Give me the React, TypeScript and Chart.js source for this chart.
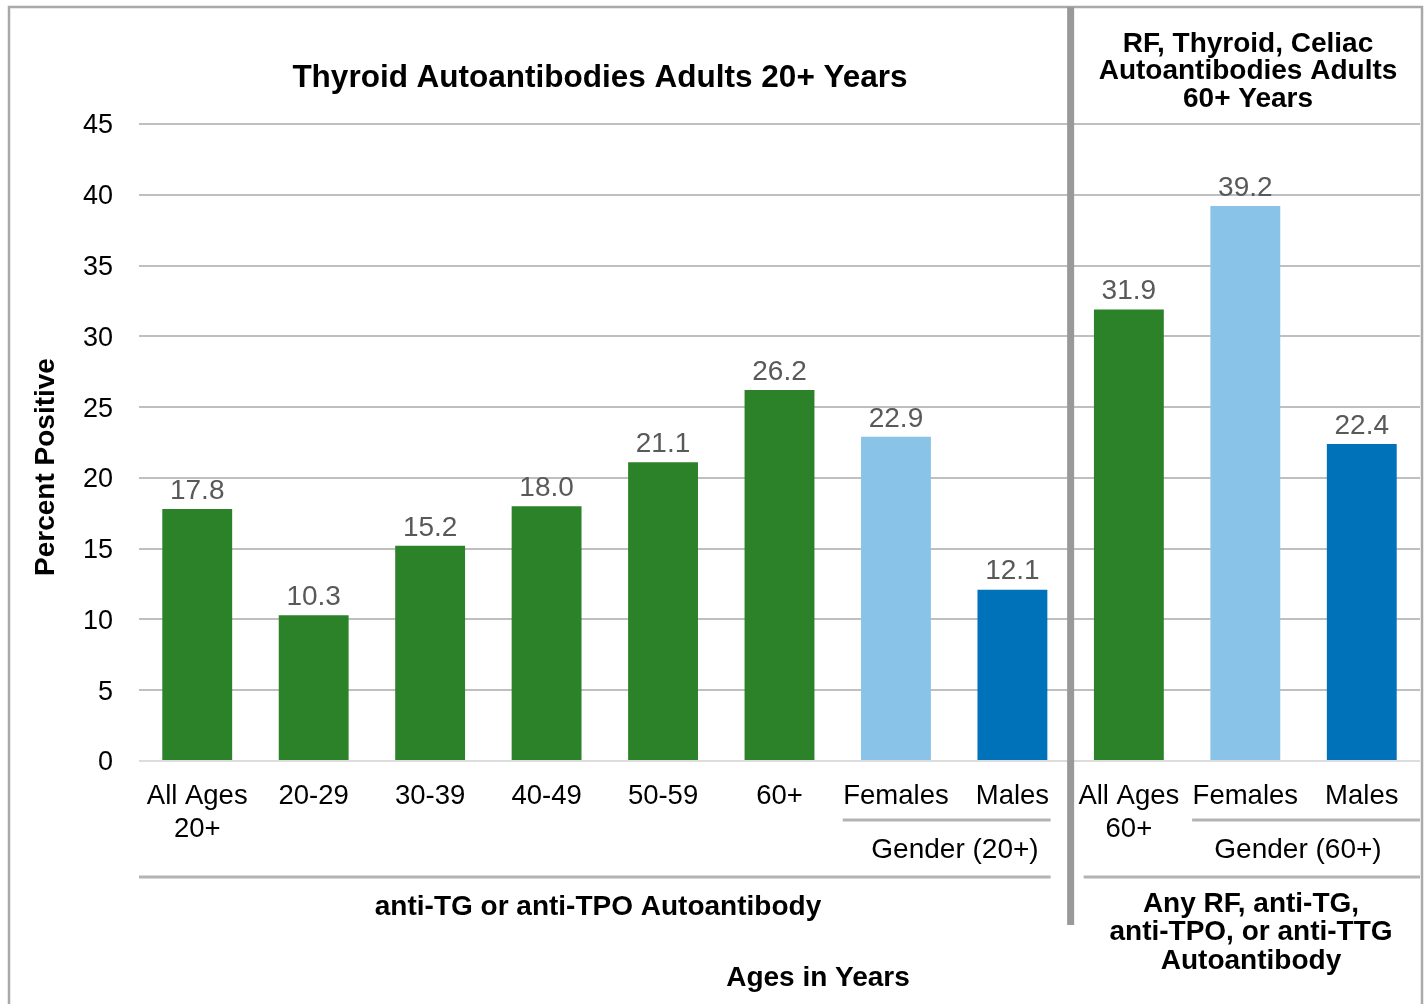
import React, { useEffect, useRef } from "react";
import { Chart, registerables } from "chart.js";

Chart.register(...registerables);

const GREEN = "#2B8229";
const LIGHT_BLUE = "#89C4E8";
const DARK_BLUE = "#0072B9";

const categories: (string | string[])[] = [
  ["All Ages", "20+"],
  "20-29",
  "30-39",
  "40-49",
  "50-59",
  "60+",
  "Females",
  "Males",
  ["All Ages", "60+"],
  "Females",
  "Males",
];
const values = [17.8, 10.3, 15.2, 18.0, 21.1, 26.2, 22.9, 12.1, 31.9, 39.2, 22.4];
const barColors = [GREEN, GREEN, GREEN, GREEN, GREEN, GREEN, LIGHT_BLUE, DARK_BLUE, GREEN, LIGHT_BLUE, DARK_BLUE];

const yMin = 0;
const yMax = 45;
const yStep = 5;

const leftTitle = "Thyroid Autoantibodies Adults 20+ Years";
const rightTitle = ["RF, Thyroid, Celiac", "Autoantibodies Adults", "60+ Years"];
const yTitle = "Percent Positive";
const xTitle = "Ages in Years";
const gender20Label = "Gender (20+)";
const gender60Label = "Gender (60+)";
const leftGroupLabel = "anti-TG or anti-TPO Autoantibody";
const rightGroupLabel = ["Any RF, anti-TG,", "anti-TPO, or anti-TTG", "Autoantibody"];

const FONT = "'Liberation Sans', Arial, Helvetica, sans-serif";

const overlayPlugin = {
  id: "overlay",
  afterDraw(chart: any) {
    const ctx: CanvasRenderingContext2D = chart.ctx;
    const x = chart.scales.x;
    const area = chart.chartArea;
    const px = (i: number) => x.getPixelForValue(i);
    const half = (px(1) - px(0)) / 2;
    const divX = (px(7) + px(8)) / 2;

    ctx.save();
    // frame
    ctx.strokeStyle = "#a9a9a9";
    ctx.lineWidth = 2.5;
    ctx.strokeRect(9, 7, 1413, 1010);

    // divider
    ctx.fillStyle = "#999999";
    ctx.fillRect(divX - 3.5, 7, 7, 918);

    // value labels
    const meta = chart.getDatasetMeta(0);
    ctx.fillStyle = "#595959";
    ctx.font = `28px ${FONT}`;
    ctx.textAlign = "center";
    ctx.textBaseline = "bottom";
    meta.data.forEach((bar: any, i: number) => {
      ctx.fillText(values[i].toFixed(1), bar.x, bar.y - 4);
    });

    // titles
    ctx.fillStyle = "#000";
    ctx.textBaseline = "middle";
    ctx.font = `bold 31.5px ${FONT}`;
    ctx.fillText(leftTitle, 600, 78);
    ctx.font = `bold 28px ${FONT}`;
    rightTitle.forEach((t, i) => ctx.fillText(t, 1248, 44 + i * 27.5));

    // y title
    ctx.save();
    ctx.translate(46, 467);
    ctx.rotate(-Math.PI / 2);
    ctx.font = `bold 28px ${FONT}`;
    ctx.fillText(yTitle, 0, 0);
    ctx.restore();

    // group lines
    ctx.strokeStyle = "#b3b3b3";
    ctx.lineWidth = 3;
    const line = (x1: number, x2: number, y: number) => {
      ctx.beginPath();
      ctx.moveTo(x1, y);
      ctx.lineTo(x2, y);
      ctx.stroke();
    };
    line(px(6) - half + 5, divX - 20, 820);
    line(px(9) - half + 5, area.right, 820);
    line(area.left, divX - 20, 877);
    line(divX + 13, area.right, 877);

    ctx.font = `28px ${FONT}`;
    ctx.fillText(gender20Label, 955, 850);
    ctx.fillText(gender60Label, 1298, 850);

    ctx.font = `bold 28px ${FONT}`;
    ctx.fillText(leftGroupLabel, 598, 907);
    rightGroupLabel.forEach((t, i) => ctx.fillText(t, 1251, 904 + i * 28.5));
    ctx.fillText(xTitle, 818, 978);
    ctx.restore();
  },
};

export default function App() {
  const ref = useRef<HTMLCanvasElement>(null);
  useEffect(() => {
    document.body.style.margin = "0";
    const chart = new Chart(ref.current as HTMLCanvasElement, {
      type: "bar",
      data: {
        labels: categories,
        datasets: [
          {
            data: values,
            backgroundColor: barColors,
            barPercentage: 0.6,
            categoryPercentage: 1,
          },
        ],
      },
      options: {
        animation: false,
        responsive: false,
        layout: { padding: { top: 124, right: 7, left: 0, bottom: 0 } },
        plugins: { legend: { display: false }, tooltip: { enabled: false } },
        scales: {
          x: {
            grid: { display: false, drawTicks: false },
            border: { display: false },
            ticks: {
              color: "#000",
              font: { family: FONT, size: 27.5, lineHeight: 1.2 },
              padding: 19,
              maxRotation: 0,
              autoSkip: false,
            },
            afterFit: (s: any) => {
              s.height = 243;
            },
          },
          y: {
            min: yMin,
            max: yMax,
            grid: {
              drawTicks: false,
              lineWidth: 2,
              color: (c: any) => (c.tick && c.tick.value === 0 ? "#dcdcdc" : "#bfbfbf"),
            },
            border: { display: false },
            ticks: {
              stepSize: yStep,
              color: "#000",
              font: { family: FONT, size: 27 },
              padding: 26,
              labelOffset: 2,
            },
            afterFit: (s: any) => {
              s.width = 139;
            },
          },
        },
      },
      plugins: [overlayPlugin],
    });
    return () => chart.destroy();
  }, []);
  return (
    <div style={{ position: "absolute", left: 0, top: 0, width: 1427, height: 1004, background: "#fff" }}>
      <canvas ref={ref} width={1427} height={1004} />
    </div>
  );
}
